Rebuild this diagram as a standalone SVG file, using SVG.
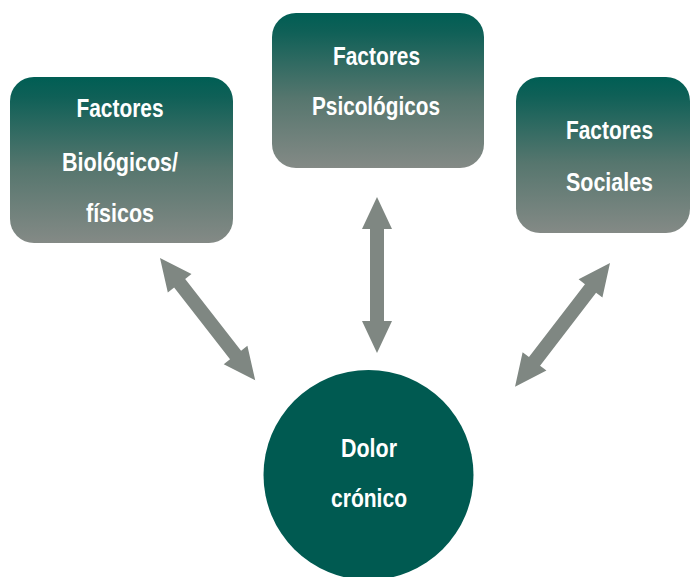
<svg xmlns="http://www.w3.org/2000/svg" width="692" height="577" viewBox="0 0 692 577">
<style>
.lbl{font-family:"Liberation Sans",Arial,sans-serif;font-weight:bold;font-size:25px;fill:#ffffff;text-anchor:middle}
.arr{fill:#7f8782}
</style>
<defs>
<linearGradient id="boxGrad" x1="0" y1="0" x2="0" y2="1">
<stop offset="0" stop-color="#005e54"/>
<stop offset="0.12" stop-color="#0f6057"/>
<stop offset="0.55" stop-color="#56766e"/>
<stop offset="1" stop-color="#848a86"/>
</linearGradient>
</defs>
<rect width="692" height="577" fill="#ffffff"/>
<g id="connectors">
<path class="arr" transform="translate(160,258) rotate(52.1)" d="M0,0 L32,-15 L32,-7 L123,-7 L123,-15 L155,0 L123,15 L123,7 L32,7 L32,15 Z"/>
<path class="arr" transform="translate(377,197) rotate(90)" d="M0,0 L32,-15 L32,-7 L124,-7 L124,-15 L156,0 L124,15 L124,7 L32,7 L32,15 Z"/>
<path class="arr" transform="translate(610,263) rotate(127.5)" d="M0,0 L32,-15 L32,-7 L124,-7 L124,-15 L156,0 L124,15 L124,7 L32,7 L32,15 Z"/>
</g>
<g id="biologicos">
<rect x="10" y="77" width="223" height="166" rx="24" fill="url(#boxGrad)"/>
<text class="lbl" x="120" y="117" textLength="87" lengthAdjust="spacingAndGlyphs">Factores</text>
<text class="lbl" x="120" y="171" textLength="116" lengthAdjust="spacingAndGlyphs">Biológicos/</text>
<text class="lbl" x="120" y="222" textLength="68" lengthAdjust="spacingAndGlyphs">físicos</text>
</g>
<g id="psicologicos">
<rect x="272" y="13" width="212" height="155" rx="24" fill="url(#boxGrad)"/>
<text class="lbl" x="376.5" y="65" textLength="87" lengthAdjust="spacingAndGlyphs">Factores</text>
<text class="lbl" x="376" y="115" textLength="128" lengthAdjust="spacingAndGlyphs">Psicológicos</text>
</g>
<g id="sociales">
<rect x="516" y="77" width="174" height="156" rx="24" fill="url(#boxGrad)"/>
<text class="lbl" x="609.5" y="139" textLength="87" lengthAdjust="spacingAndGlyphs">Factores</text>
<text class="lbl" x="609.5" y="191" textLength="87" lengthAdjust="spacingAndGlyphs">Sociales</text>
</g>
<g id="dolor">
<circle cx="368.5" cy="475" r="105" fill="#005a51"/>
<text class="lbl" x="369" y="457" textLength="56" lengthAdjust="spacingAndGlyphs">Dolor</text>
<text class="lbl" x="369" y="507" textLength="76" lengthAdjust="spacingAndGlyphs">crónico</text>
</g>
</svg>
